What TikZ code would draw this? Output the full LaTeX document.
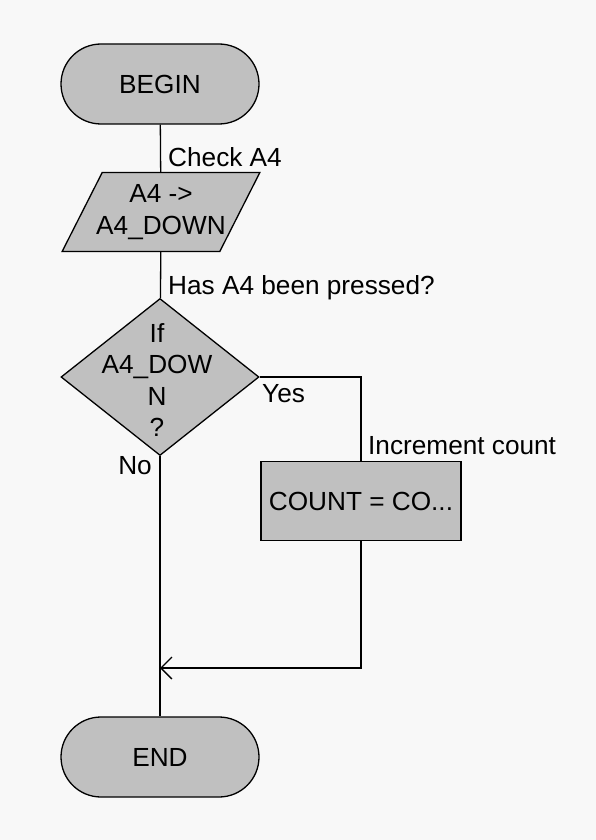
\documentclass[tikz,border=0pt]{standalone}
\usepackage{fontspec}
\setmainfont{Liberation Sans}
\usetikzlibrary{shapes.geometric,arrows.meta}
\definecolor{boxgray}{RGB}{192,192,192}
\definecolor{paper}{RGB}{248,248,248}

\begin{document}
\begin{tikzpicture}[x=1pt, y=-1pt,
		every node/.style={font=\fontsize{26.2}{32}\selectfont},
		shp/.style={draw, fill=boxgray, line width=1.3pt},
		term/.style={shp, rounded corners=40pt, minimum width=198pt, minimum height=80pt},
		io/.style={shp, trapezium, trapezium left angle=55, trapezium right angle=125,
			trapezium stretches=true, minimum width=198pt, minimum height=79pt,
			inner xsep=-6pt, inner ysep=1pt, align=center},
		decision/.style={shp, diamond, minimum width=198pt, minimum height=157pt, inner sep=0pt},
		proc/.style={shp, minimum width=200pt, minimum height=79pt},
		flow/.style={line width=1.3pt}
	]
		\begin{scope}
			\fill[paper] (0,0) rectangle (596,840);
			\useasboundingbox (0,0) rectangle (596,840);

			\node[term] (begin) at (160,84) {BEGIN};
			\node[io] (read) at (161,212) {A4 ->\\A4\_DOWN};
			\node[decision] (dec) at (160,377) {};
			\node[align=center, font=\fontsize{26.2}{31.5}\selectfont] (dectxt) at (157,380) {If\\A4\_DOW\\N\\?};
			\node[proc] (cnt) at (361,501) {COUNT = CO...};
			\node[term] (end) at (160,757) {END};
			\coordinate (join) at (160,668);

			\draw[flow] (begin) -- (read);
			\draw[flow] (read) -- (dec);
			\draw[flow] (dec.east) -| (cnt.north);
			\draw[flow] (dec.south) -- (end.north);
			\draw[flow, -{Straight Barb[length=11pt, width=22pt]}] (cnt.south) |- (join);

			\foreach \name/\x/\y/\txt in {
				chk/168/166/Check A4,
				pressed/168/294/Has A4 been pressed?,
				yes/262/402/Yes,
				incr/368/454/Increment count
			} {
				\node[anchor=base west, inner sep=0pt] (\name) at (\x,\y) {\txt};
			}
			\node[anchor=base east, inner sep=0pt] (no) at (152,474) {No};
		\end{scope}
	\end{tikzpicture}
\end{document}
